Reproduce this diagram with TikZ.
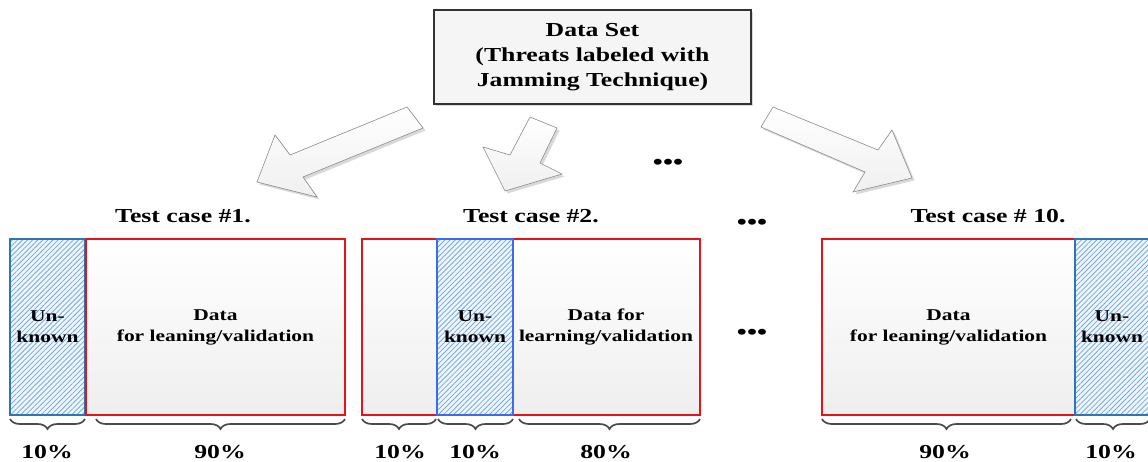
\documentclass[tikz,border=0pt]{standalone}
\usepackage{fontspec}
\setmainfont{Liberation Serif}[FakeStretch=1.3]
\usetikzlibrary{patterns.meta,shadows,decorations.pathreplacing}

\definecolor{redline}{HTML}{E8121A}
\definecolor{hatchblue}{HTML}{5B9BD5}
\definecolor{edgeblue}{HTML}{2E75B6}
\definecolor{edgeblueb}{HTML}{3D6BF0}
\definecolor{bracegray}{HTML}{4A4A4A}
\definecolor{arrowedge}{HTML}{8C8C8C}

\tikzset{
  bigfont/.style={font=\fontsize{19.8}{25}\selectfont\bfseries},
  cellfont/.style={font=\fontsize{16.5}{21}\selectfont\bfseries},
  cell/.style={inner sep=0pt, outer sep=0pt, anchor=north west, align=center},
  datacell/.style={cell, cellfont, draw=redline, line width=1.8pt,
    top color=white, bottom color=gray!13},
  hatchcell/.style={cell, cellfont, draw=#1, line width=1.8pt,
    preaction={fill=hatchblue!10},
    pattern={Lines[angle=45,distance=3.6pt,line width=0.8pt]},
    pattern color=hatchblue!85},
  hatchcell/.default=edgeblue,
  blockarrow/.style={draw=arrowedge, line width=0.6pt, line join=miter,
    top color=white, bottom color=gray!12,
    drop shadow={shadow xshift=2.5pt, shadow yshift=-2.5pt, opacity=0.3}},
  sourcebox/.style={draw=gray!40!black, line width=1.3pt, fill=gray!8,
    inner sep=0pt, outer sep=0pt, align=center, bigfont,
    drop shadow={shadow xshift=2pt, shadow yshift=-2pt, opacity=0.3}},
  title/.style={bigfont, anchor=center},
  pct/.style={bigfont, anchor=base},
  brace/.style={decorate, decoration={brace, mirror, amplitude=10pt},
    draw=bracegray, line width=1.7pt},
  dots/.style={font=\fontsize{22}{22}\selectfont\bfseries, inner sep=0pt}
}

\begin{document}
\begin{tikzpicture}[x=1pt, y=-1pt]
  \useasboundingbox (0,0) rectangle (1148,461);
  \clip (0,0) rectangle (1148,461);

  % source data set
  \node[sourcebox, minimum width=317pt, minimum height=94pt, anchor=north west]
    (src) at (434,10) {Data Set\\(Threats labeled with\\Jamming Technique)};

  % block arrows fanning out to the test cases
  \draw[blockarrow] (407,107) -- (290,155) -- (275,135) -- (257,182)
    -- (317,197) -- (303,177) -- (423,128) -- cycle;
  \draw[blockarrow] (530,117) -- (510,155) -- (483,147) -- (505,191)
    -- (562,174) -- (540,163) -- (557,128) -- cycle;
  \draw[blockarrow] (773,107) -- (878,150) -- (892,130) -- (912,178)
    -- (853,192) -- (865,172) -- (761,127) -- cycle;

  \node[dots] (dA) at (668,164) {\textbullet\textbullet\textbullet};
  \node[dots] (dB) at (752,224) {\textbullet\textbullet\textbullet};
  \node[dots] (dC) at (752,334) {\textbullet\textbullet\textbullet};

  % test case 1
  \node[title] (t1) at (183,216) {Test case \#1.};
  \node[hatchcell, minimum width=75pt, minimum height=176pt] (u1) at (10,239)
    {Un-\\known};
  \node[datacell, minimum width=259pt, minimum height=176pt] (d1) at (86,239)
    {Data\\for leaning/validation};
  \draw[brace] (10,419) -- (85,419);
  \draw[brace] (96,419) -- (345,419);
  \node[pct] (p1a) at (47,458) {10\%};
  \node[pct] (p1b) at (220,458) {90\%};

  % test case 2
  \node[title] (t2) at (531,216) {Test case \#2.};
  \node[datacell, minimum width=338pt, minimum height=176pt] (d2) at (362,239) {};
  \node[hatchcell=edgeblueb, minimum width=76pt, minimum height=176pt] (u2)
    at (437,239) {Un-\\known};
  \node[cellfont, align=center] (l2) at (606,327) {Data for\\learning/validation};
  \draw[brace] (362,419) -- (436,419);
  \draw[brace] (438,419) -- (513,419);
  \draw[brace] (519,419) -- (700,419);
  \node[pct] (p2a) at (400,458) {10\%};
  \node[pct] (p2b) at (475,458) {10\%};
  \node[pct] (p2c) at (606,458) {80\%};

  % test case 10
  \node[title] (t10) at (988,216) {Test case \# 10.};
  \node[datacell, minimum width=253pt, minimum height=176pt] (d10) at (822,239)
    {Data\\for leaning/validation};
  \node[hatchcell, minimum width=80pt, minimum height=176pt] (u10) at (1075,239)
    {\hspace*{-6pt}Un-\\\hspace*{-6pt}known};
  \draw[brace] (822,419) -- (1071,419);
  \draw[brace] (1076,419) -- (1150,419);
  \node[pct] (p10a) at (945,458) {90\%};
  \node[pct] (p10b) at (1111,458) {10\%};
\end{tikzpicture}
\end{document}
